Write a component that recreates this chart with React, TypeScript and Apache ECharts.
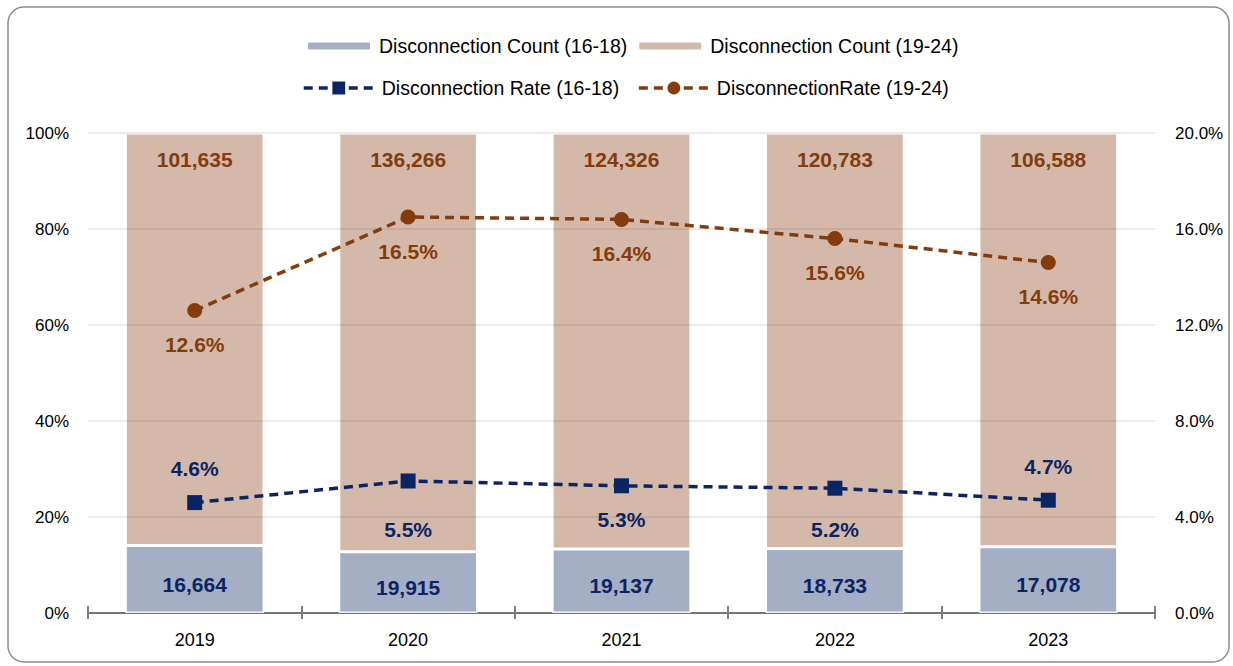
import React, { useEffect, useRef } from "react";
import * as echarts from "echarts";

const years = ["2019", "2020", "2021", "2022", "2023"];
const count1618 = [16664, 19915, 19137, 18733, 17078];
const count1924 = [101635, 136266, 124326, 120783, 106588];
const rate1618 = [4.6, 5.5, 5.3, 5.2, 4.7];
const rate1924 = [12.6, 16.5, 16.4, 15.6, 14.6];
const leftTicks = [0, 20, 40, 60, 80, 100];
const rightTicks = [0, 4, 8, 12, 16, 20];

const label1618Pos = ["top", "bottom", "bottom", "bottom", "top"];
const label1618Dist = [16, 30, 16, 23, 16];

const NAVY = "#0b2463";
const BROWN = "#843c0c";
const FONT = "'Liberation Sans', Arial, sans-serif";

export default function App() {
  const ref = useRef<HTMLDivElement>(null);
  useEffect(() => {
    if (!ref.current) return;
    const chart = echarts.init(ref.current, undefined, { renderer: "svg" });
    const totals = count1618.map((c, i) => c + count1924[i]);
    const share1618 = count1618.map((c, i) => (c / totals[i]) * 100);
    const share1924 = count1924.map((c, i) => (c / totals[i]) * 100);
    const fmt = (n: number) => n.toLocaleString("en-US");

    const option: any = {
      animation: false,
      backgroundColor: "#ffffff",
      textStyle: { fontFamily: FONT },
      graphic: [
        {
          type: "rect",
          shape: { x: 8, y: 7, width: 1221, height: 655, r: 16 },
          style: { fill: "none", stroke: "#8c8c8c", lineWidth: 1.5 },
          silent: true,
          z: -1,
        },
      ],
      legend: [
        {
          data: ["Disconnection Count (16-18)", "Disconnection Count (19-24)"],
          top: 31,
          left: 301,
          itemWidth: 64,
          itemHeight: 9,
          itemGap: 10,
          textStyle: { fontSize: 19.5, color: "#000", fontFamily: FONT, padding: [0, 0, 0, 3] },
        },
        {
          data: ["Disconnection Rate (16-18)", "DisconnectionRate (19-24)"],
          top: 73,
          left: 297,
          itemWidth: 70,
          itemHeight: 16,
          itemGap: 18,
          lineStyle: { width: 3.5 },
          textStyle: { fontSize: 19.5, color: "#000", fontFamily: FONT, padding: [0, 0, 0, 3] },
        },
      ],
      grid: { left: 88, right: 78, top: 133, bottom: 53 },
      xAxis: [
        {
          type: "category",
          data: years,
          position: "bottom",
          axisLine: { show: true, lineStyle: { color: "#7f7f7f", width: 2 } },
          axisTick: { show: true, inside: false, length: 6, lineStyle: { color: "#7f7f7f", width: 2 } },
          axisLabel: { fontSize: 18, color: "#000", margin: 18, fontFamily: FONT },
        },
        {
          type: "category",
          data: years,
          position: "bottom",
          axisLine: { show: false },
          axisTick: { show: true, inside: true, length: 7, lineStyle: { color: "#7f7f7f", width: 2 } },
          axisLabel: { show: false },
        },
      ],
      yAxis: [
        {
          type: "value",
          min: leftTicks[0],
          max: leftTicks[leftTicks.length - 1],
          interval: leftTicks[1] - leftTicks[0],
          z: 3,
          axisLine: { show: false },
          axisTick: { show: false },
          axisLabel: { fontSize: 17, color: "#000", margin: 19, formatter: (v: number) => v + "%", fontFamily: FONT },
          splitLine: { show: true, lineStyle: { color: "rgba(0,0,0,0.1)", width: 1.5 } },
        },
        {
          type: "value",
          min: rightTicks[0],
          max: rightTicks[rightTicks.length - 1],
          interval: rightTicks[1] - rightTicks[0],
          position: "right",
          axisLine: { show: false },
          axisTick: { show: false },
          axisLabel: { fontSize: 17, color: "#000", margin: 20, formatter: (v: number) => v.toFixed(1) + "%", fontFamily: FONT },
          splitLine: { show: false },
        },
      ],
      series: [
        {
          name: "Disconnection Count (16-18)",
          type: "bar",
          stack: "total",
          barWidth: "65%",
          data: share1618,
          itemStyle: { color: "#a4aec4", borderColor: "#ffffff", borderWidth: 1.5 },
          label: {
            show: true,
            position: "inside",
            offset: [0, 5],
            formatter: (p: any) => fmt(count1618[p.dataIndex]),
            fontSize: 21,
            fontWeight: "bold",
            color: NAVY,
            fontFamily: FONT,
          },
        },
        {
          name: "Disconnection Count (19-24)",
          type: "bar",
          stack: "total",
          barWidth: "65%",
          data: share1924,
          itemStyle: { color: "#d4b9aa", borderColor: "#ffffff", borderWidth: 1.5 },
          label: {
            show: true,
            position: "insideTop",
            distance: 16,
            formatter: (p: any) => fmt(count1924[p.dataIndex]),
            fontSize: 21,
            fontWeight: "bold",
            color: BROWN,
            fontFamily: FONT,
          },
        },
        {
          name: "Disconnection Rate (16-18)",
          type: "line",
          yAxisIndex: 1,
          z: 5,
          data: rate1618.map((v, i) => ({
            value: v,
            label: { position: label1618Pos[i], distance: label1618Dist[i] },
          })),
          symbol: "rect",
          symbolSize: 15,
          itemStyle: { color: NAVY },
          lineStyle: { color: NAVY, width: 3.5, type: [9, 6] },
          label: {
            show: true,
            formatter: (p: any) => Number(p.value).toFixed(1) + "%",
            fontSize: 21,
            fontWeight: "bold",
            color: NAVY,
            fontFamily: FONT,
          },
        },
        {
          name: "DisconnectionRate (19-24)",
          type: "line",
          yAxisIndex: 1,
          z: 5,
          data: rate1924,
          symbol: "circle",
          symbolSize: 15,
          itemStyle: { color: BROWN },
          lineStyle: { color: BROWN, width: 3.5, type: [9, 6] },
          label: {
            show: true,
            position: "bottom",
            distance: 16,
            formatter: (p: any) => Number(p.value).toFixed(1) + "%",
            fontSize: 21,
            fontWeight: "bold",
            color: BROWN,
            fontFamily: FONT,
          },
        },
      ],
    };
    chart.setOption(option);
    return () => chart.dispose();
  }, []);

  return (
    <div
      ref={ref}
      style={{ position: "fixed", left: 0, top: 0, width: 1233, height: 666, background: "#fff" }}
    />
  );
}
